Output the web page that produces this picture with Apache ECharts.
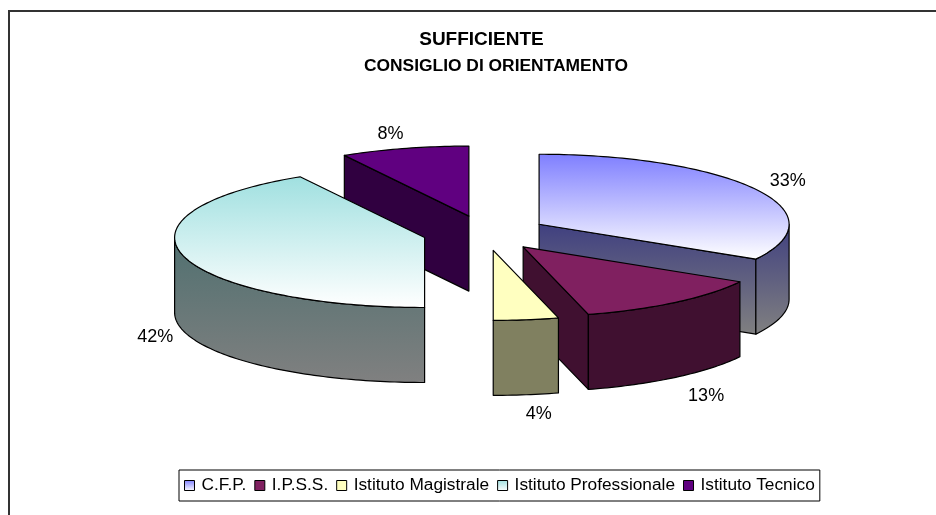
<!DOCTYPE html>
<html><head><meta charset="utf-8">
<style>html,body{margin:0;padding:0;background:#fff;overflow:hidden}#c{width:936px;height:515px}</style>
<script src="https://cdn.jsdelivr.net/npm/echarts@6/dist/echarts.min.js"></script>
</head><body><div id="c"></div>
<script>
const titleLines = ['SUFFICIENTE', 'CONSIGLIO DI ORIENTAMENTO'];
const categories = ['C.F.P.', 'I.P.S.S.', 'Istituto Magistrale', 'Istituto Professionale', 'Istituto Tecnico'];
const percentages = [33.3, 12.5, 4.2, 41.7, 8.3];

// styling per category: top face gradient, side face gradient, paint order, label nudge
const topColors = [['#7f7fff', '#ffffff'], ['#802060', '#802060'], ['#ffffc0', '#ffffc0'], ['#a0e0e0', '#ffffff'], ['#600080', '#600080']];
const sideColors = [['#404080', '#808080'], ['#401030', '#401030'], ['#808060', '#808060'], ['#507070', '#808080'], ['#300040', '#300040']];
const paintOrder = [3, 4, 5, 2, 1];
const labelNudge = [[2, 2], [9, 3], [8, -1], [6, 1], [-5, 5]];

const pie = { cx: 485, cy: 233, rx: 250, ry: 70, depth: 75, explode: 0.25, labelRx: 285, labelRy: 90 };
const total = percentages.reduce((a, b) => a + b, 0);
const cum = [];
percentages.reduce((a, v, i) => (cum[i] = a, a + v), 0);

function grad(c, y0, y1) {
  return new echarts.graphic.LinearGradient(0, y0, 0, y1, [{ offset: 0, color: c[0] }, { offset: 1, color: c[1] }], true);
}
function arc(ax, ay, a0, a1, dy) {
  const pts = [], n = Math.max(2, Math.ceil((a1 - a0) / 0.02));
  for (let k = 0; k <= n; k++) {
    const t = a0 + (a1 - a0) * k / n;
    pts.push([ax + pie.rx * Math.sin(t), ay - pie.ry * Math.cos(t) + dy]);
  }
  return pts;
}
const edge = { stroke: '#000', lineWidth: 1.2, lineJoin: 'round' };

function renderSlice(i) {
  return function () {
    const a0 = cum[i] / total * 2 * Math.PI, a1 = (cum[i] + percentages[i]) / total * 2 * Math.PI;
    const mid = (a0 + a1) / 2, eps = 1e-6;
    const ax = pie.cx + pie.explode * pie.rx * Math.sin(mid);
    const ay = pie.cy - pie.explode * pie.ry * Math.cos(mid);
    const d = pie.depth;
    const top = [[ax, ay]].concat(arc(ax, ay, a0, a1, 0));
    const ys = top.map(p => p[1]);
    const yMin = Math.min(...ys), yMax = Math.max(...ys);
    const sideFill = grad(sideColors[i], ay, yMax + d);
    const topFill = grad(topColors[i], yMin, yMax);
    const children = [];
    const face = pts => children.push({ type: 'polygon', shape: { points: pts }, style: Object.assign({ fill: sideFill }, edge) });
    const radial = t => {
      const q = [ax + pie.rx * Math.sin(t), ay - pie.ry * Math.cos(t)];
      face([[ax, ay], q, [q[0], q[1] + d], [ax, ay + d]]);
    };
    if (Math.sin(a0) < -eps) radial(a0);
    if (Math.sin(a1) > eps) radial(a1);
    const r0 = Math.max(a0, Math.PI / 2), r1 = Math.min(a1, 1.5 * Math.PI);
    if (r1 > r0) {
      const upper = arc(ax, ay, r0, r1, 0), lower = arc(ax, ay, r0, r1, d).reverse();
      face(upper.concat(lower));
    }
    children.push({ type: 'polygon', shape: { points: top }, style: Object.assign({ fill: topFill }, edge) });
    const lx = ax + pie.labelRx * Math.sin(mid) + labelNudge[i][0];
    const ly = ay - pie.labelRy * Math.cos(mid) + (Math.cos(mid) < 0 ? d : 0) + labelNudge[i][1];
    children.push({ type: 'text', z2: 50, style: { text: Math.round(percentages[i]) + '%', x: lx, y: ly, align: 'center', verticalAlign: 'middle', fill: '#000', font: '18px "Liberation Sans"' } });
    return { type: 'group', children };
  };
}

const chart = echarts.init(document.getElementById('c'));
chart.setOption({
  animation: false,
  backgroundColor: '#fff',
  title: [
    { text: titleLines[0], left: 481.5, top: 30, textAlign: 'center', padding: 0,
      textStyle: { fontFamily: 'Liberation Sans', fontWeight: 'bold', fontSize: 19, color: '#000' } },
    { text: titleLines[1], left: 496, top: 58, textAlign: 'center', padding: 0,
      textStyle: { fontFamily: 'Liberation Sans', fontWeight: 'bold', fontSize: 17.4, color: '#000' } }
  ],
  legend: {
    data: categories.map((n, i) => ({ name: n, icon: 'rect', itemStyle: { color: new echarts.graphic.LinearGradient(0, 0, 0, 1, [{ offset: 0, color: topColors[i][0] }, { offset: 1, color: topColors[i][1] }]), borderColor: '#000', borderWidth: 1 } })),
    left: 179, top: 470, orient: 'horizontal', itemWidth: 10, itemHeight: 10, itemGap: 8,
    padding: [7, 5], backgroundColor: '#fff', borderColor: '#000', borderWidth: 1, borderRadius: 0,
    selectedMode: false,
    textStyle: { fontFamily: 'Liberation Sans', fontSize: 17.3, color: '#000', padding: [0, 0, 0, 2] }
  },
  graphic: [{ type: 'rect', z: -1, shape: { x: 9, y: 11, width: 1000, height: 600 }, style: { fill: 'none', stroke: '#333', lineWidth: 2 }, silent: true }],
  series: categories.map((n, i) => ({
    type: 'custom', name: n, coordinateSystem: 'none', z: paintOrder[i], silent: true,
    itemStyle: { color: topColors[i][0] },
    data: [percentages[i]],
    renderItem: renderSlice(i)
  }))
});
</script></body></html>
